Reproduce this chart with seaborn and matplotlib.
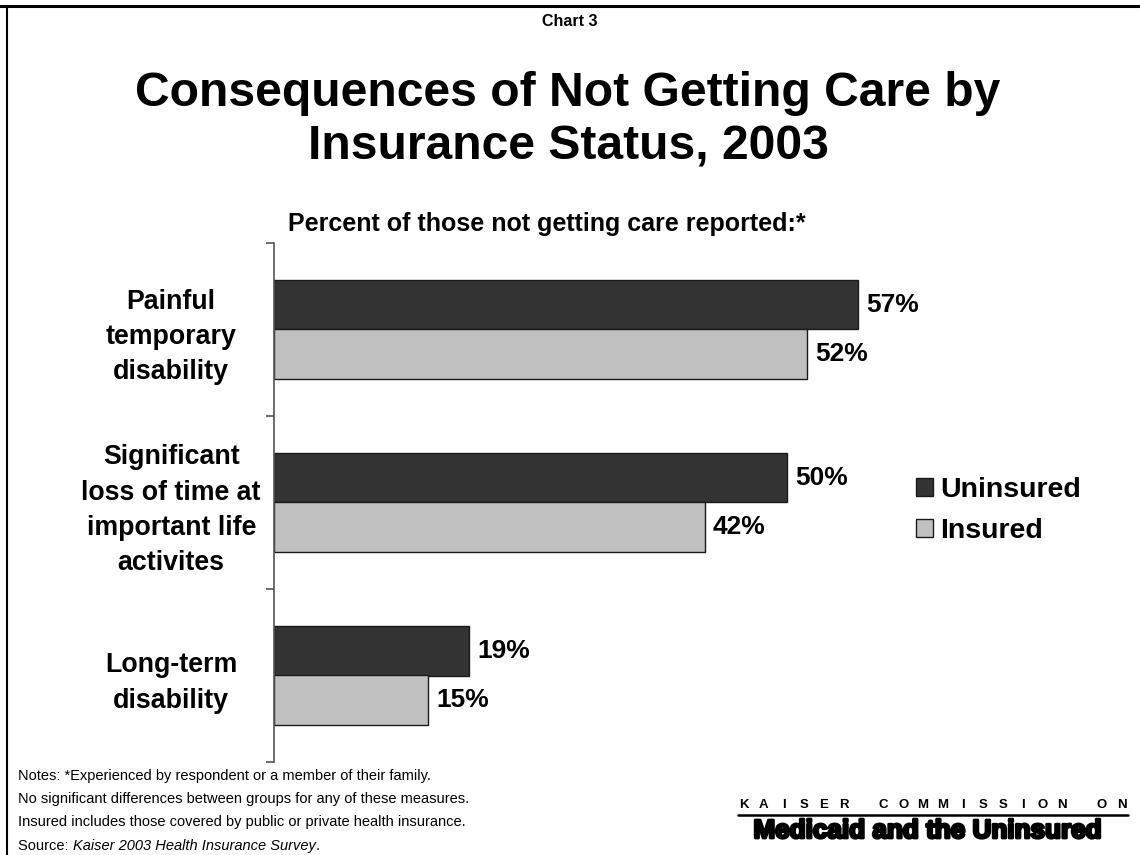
import matplotlib
matplotlib.use("Agg")
import matplotlib.pyplot as plt
import matplotlib.patheffects as pe
from matplotlib.lines import Line2D
import seaborn as sns
import pandas as pd

# Survey results: share of those not getting care who reported each consequence
categories = [
    "Painful\ntemporary\ndisability",
    "Significant\nloss of time at\nimportant life\nactivites",
    "Long-term\ndisability",
]
uninsured = [57, 50, 19]
insured = [52, 42, 15]
groups = ["Uninsured", "Insured"]
colors = ["#333333", "#C0C0C0"]

df = pd.DataFrame({
    "category": categories * 2,
    "group": [groups[0]] * len(categories) + [groups[1]] * len(categories),
    "value": uninsured + insured,
})

sns.set_theme(style="white")
plt.rcParams["font.family"] = ["Liberation Sans", "DejaVu Sans"]
plt.rcParams["text.color"] = "black"
plt.rcParams["axes.labelcolor"] = "black"
plt.rcParams["ytick.color"] = "black"
plt.rcParams["xtick.color"] = "black"

W, H = 1140, 855
fig = plt.figure(figsize=(W / 100, H / 100), dpi=100)

# Plot area in pixel terms
left_px, right_px, top_px, bottom_px = 274, 1094, 243, 762
ax = fig.add_axes([left_px / W, 1 - bottom_px / H,
                   (right_px - left_px) / W, (bottom_px - top_px) / H])

sns.barplot(data=df, x="value", y="category", hue="group", orient="h",
            palette=colors, width=0.572, edgecolor="#1a1a1a", linewidth=1.0,
            ax=ax, legend=True)

ax.set_xlim(0, 80)
ax.set_ylim(2.5, -0.5)
ax.set_xlabel("")
ax.set_ylabel("")
ax.set_xticks([])

for s in ["top", "right", "bottom"]:
    ax.spines[s].set_visible(False)
ax.spines["left"].set_color("#555555")
ax.spines["left"].set_linewidth(1.2)

# Category labels centred left of the axis; tick marks between categories
ax.set_yticks(range(len(categories)))
ax.set_yticks([-0.5, 0.5, 1.5, 2.5], minor=True)
ax.tick_params(axis="y", which="major", length=0, pad=74)
ax.tick_params(axis="y", which="minor", length=6, width=1.2, color="#555555",
               left=True, direction="out")
ax.set_yticklabels(categories, fontsize=19.3, fontweight="bold", color="black",
                   ha="center", multialignment="center", linespacing=1.46)

# Value labels at the end of each bar
for cont in ax.containers:
    ax.bar_label(cont, fmt="%d%%", padding=6, fontsize=19, fontweight="bold",
                 color="black")

# Legend with square swatches
handles, labels = ax.get_legend_handles_labels()
leg = ax.legend(handles, labels, loc="center left",
                bbox_to_anchor=(905 / W, 1 - 510.5 / H),
                bbox_transform=fig.transFigure, frameon=False,
                prop={"size": 20.5, "weight": "bold"},
                handlelength=0.6, handleheight=0.6, handletextpad=0.25,
                labelspacing=0.52, borderaxespad=0)
for h in leg.legend_handles:
    h.set_edgecolor("#1a1a1a")
    h.set_linewidth(1.0)

# Headings
fig.text(570 / W, 1 - 22 / H, "Chart 3", ha="center", va="center",
         fontsize=11.5, fontweight="bold")
fig.text(568 / W, 1 - 120.5 / H, "Consequences of Not Getting Care by\nInsurance Status, 2003",
         ha="center", va="center", fontsize=34.6, fontweight="bold", linespacing=1.25)
fig.text(546.5 / W, 1 - 224 / H, "Percent of those not getting care reported:*",
         ha="center", va="center", fontsize=18, fontweight="bold")

# Notes and source
notes = [
    "Notes: *Experienced by respondent or a member of their family.",
    "No significant differences between groups for any of these measures.",
    "Insured includes those covered by public or private health insurance.",
]
for i, line in enumerate(notes):
    fig.text(18 / W, 1 - (776 + 23 * i) / H, line, ha="left", va="center",
             fontsize=10.5)
src = fig.text(18 / W, 1 - 846 / H, "Source: ", ha="left", va="center", fontsize=10.5)
fig.canvas.draw()
bb = src.get_window_extent()
src2 = fig.text(bb.x1 / W, 1 - 846 / H, "Kaiser 2003 Health Insurance Survey", ha="left",
                va="center", fontsize=10.5, style="italic")
fig.canvas.draw()
bb2 = src2.get_window_extent()
fig.text(bb2.x1 / W, 1 - 846 / H, ".", ha="left", va="center", fontsize=10.5)

# Organisation mark: letter-spaced, underlined header over the heavy name
header = "KAISER COMMISSION ON"
pitch = (1122 - 744) / (len(header) - 1)
for i, ch in enumerate(header):
    if ch != " ":
        fig.text((744 + i * pitch) / W, 1 - 805 / H, ch, ha="center", va="center",
                 fontsize=9.5, fontweight="bold")
fig.add_artist(Line2D([738 / W, 1128 / W], [1 - 815 / H, 1 - 815 / H],
                      transform=fig.transFigure, color="black", linewidth=1.8))
fig.text(928 / W, 1 - 831 / H, "Medicaid and the Uninsured", ha="center",
         va="center", fontsize=18.8, fontweight="bold",
         path_effects=[pe.withStroke(linewidth=2.0, foreground="black")])

# Page frame: top and left rules
fig.add_artist(Line2D([0, 1], [1 - 6 / H, 1 - 6 / H], transform=fig.transFigure,
                      color="black", linewidth=2.2))
fig.add_artist(Line2D([7 / W, 7 / W], [0, 1 - 6 / H], transform=fig.transFigure,
                      color="black", linewidth=1.5))

fig.savefig("out.png", dpi=100)
